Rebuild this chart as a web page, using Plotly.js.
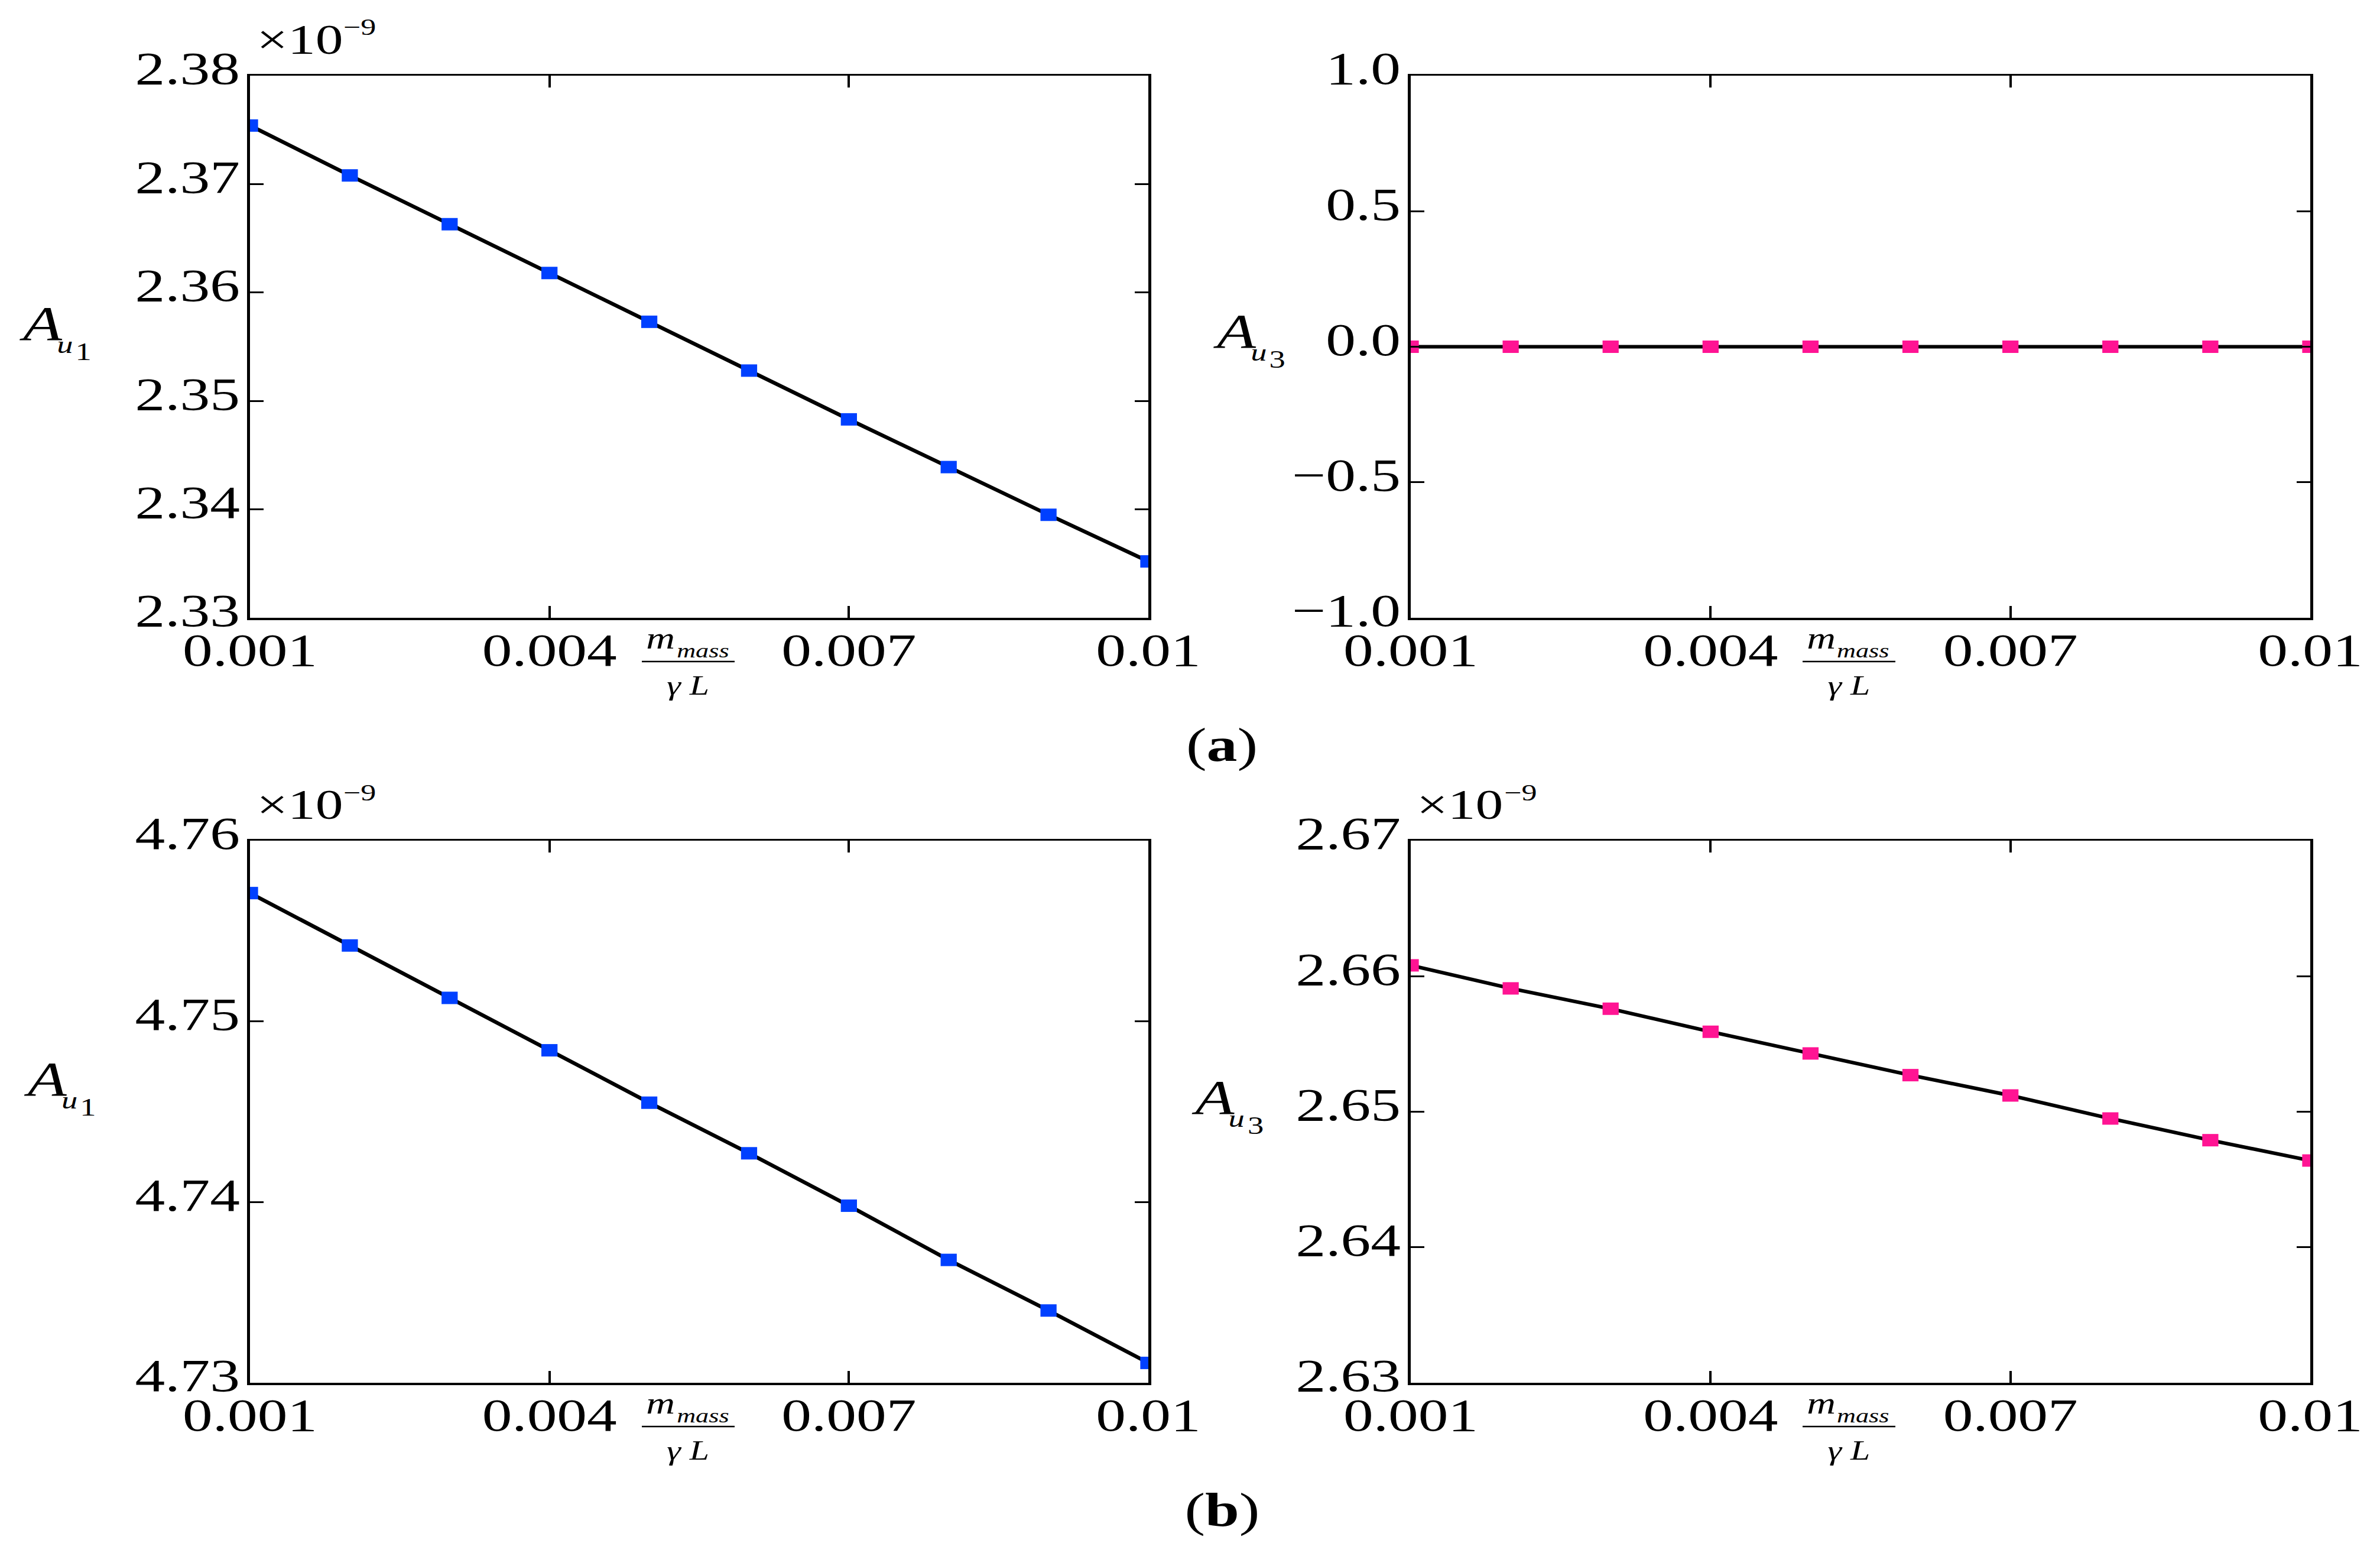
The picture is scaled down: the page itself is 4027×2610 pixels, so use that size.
<!DOCTYPE html>
<html>
<head>
<meta charset="utf-8">
<script src="https://cdn.plot.ly/plotly-3.0.1.min.js"></script>
<style>
  html, body { margin: 0; padding: 0; background: #fff; overflow: hidden; }
  /* the source figure is stretched horizontally, so draw narrow and widen */
  #fig { width: 3098px; height: 2610px; transform: scaleX(1.29987); transform-origin: 0 0; }
</style>
</head>
<body>
<div id="fig"></div>
<script>
// x: m_mass / (gamma L)
const massRatio = [0.001, 0.002, 0.003, 0.004, 0.005, 0.006, 0.007, 0.008, 0.009, 0.010];
const xTickVals = [0.001, 0.004, 0.007, 0.01];
const xTickText = ["0.001", "0.004", "0.007", "0.01"];

// amplitudes in units of 1e-9
const au1A = [2.3754, 2.3708, 2.3663, 2.3618, 2.3573, 2.3528, 2.3483, 2.3439, 2.3395, 2.3352];
const au3A = [0, 0, 0, 0, 0, 0, 0, 0, 0, 0];
const au1B = [4.7571, 4.7542, 4.7513, 4.7484, 4.7455, 4.7427, 4.7398, 4.7368, 4.7340, 4.7311];
const au3B = [2.6608, 2.6591, 2.6576, 2.6559, 2.6543, 2.6527, 2.6512, 2.6495, 2.6479, 2.6464];

const BLUE = "#0040ff";
const PINK = "#ff1493";
const W = 4027, H = 2610;
const FONT = "Liberation Serif, Times New Roman, serif";

// panel boxes in page pixels
const panels = [
    { left: 423,  right: 1943, top: 128,  bottom: 1045, y: au1A, color: BLUE, range: [2.33, 2.38], fmt: ".2f", sub: "1", exp: true },
    { left: 2387, right: 3909, top: 128,  bottom: 1045, y: au3A, color: PINK, range: [-1, 1],      fmt: ".1f", sub: "3", exp: false },
    { left: 423,  right: 1943, top: 1422, bottom: 2339, y: au1B, color: BLUE, range: [4.73, 4.76], fmt: ".2f", sub: "1", exp: true },
    { left: 2387, right: 3909, top: 1422, bottom: 2339, y: au3B, color: PINK, range: [2.63, 2.67], fmt: ".2f", sub: "3", exp: true },
];
// y-label anchor per panel: left edge of "A" and its cap centre
const yLab = [
    { x: 30,   y: 547 },
    { x: 2050, y: 560 },
    { x: 38,   y: 1825 },
    { x: 2013, y: 1856 },
];

const px = v => v / W;
const py = v => 1 - v / H;

function note(text, x, y, size, xanchor) {
    return { text, x: px(x), y: py(y), xref: "paper", yref: "paper",
             xanchor: xanchor || "left", yanchor: "middle", showarrow: false,
             font: { family: FONT, size } };
}

const traces = [];
const layout = {
    width: 3098, height: H,
    margin: { l: 0, r: 0, t: 0, b: 0 },
    paper_bgcolor: "#fff", plot_bgcolor: "#fff",
    showlegend: false,
    font: { family: FONT, size: 78, color: "#000" },
    annotations: [],
    shapes: [],
};

panels.forEach((p, i) => {
    const n = i === 0 ? "" : String(i + 1);
    traces.push({
        x: massRatio, y: p.y,
        xaxis: "x" + n, yaxis: "y" + n,
        type: "scatter", mode: "lines+markers",
        line: { color: "#000", width: 6 },
        marker: { symbol: "square", size: 21, color: p.color },
    });

    layout["xaxis" + n] = {
        domain: [px(p.left), px(p.right)],
        anchor: "y" + n,
        range: [0.001, 0.01],
        tickvals: xTickVals, ticktext: xTickText,
        ticks: "inside", ticklen: 20, tickwidth: 3, tickcolor: "#000",
        showline: true, linewidth: 3.5, linecolor: "#000", mirror: "ticks",
        showgrid: false, zeroline: false,
        ticklabelstandoff: -16,
    };
    layout["yaxis" + n] = {
        domain: [py(p.bottom), py(p.top)],
        anchor: "x" + n,
        range: p.range, dtick: p.range[0] < 0 ? 0.5 : 0.01, tickformat: p.fmt,
        ticks: "inside", ticklen: 18, tickwidth: 3, tickcolor: "#000",
        showline: true, linewidth: 3.5, linecolor: "#000", mirror: "ticks",
        showgrid: false, zeroline: false,
        ticklabelstandoff: -6, ticklabelshift: -13,
    };

    // y label A_{u_k}
    const yl = yLab[i];
    layout.annotations.push(
        note("<i>A</i>", yl.x, yl.y, 83),
        note("<i>u</i>", yl.x + 63, yl.y + 36, 42),
        note(p.sub, yl.x + 95, yl.y + 48, 42)
    );

    // x label m_mass over gamma L
    layout.annotations.push(
        note("<i>m</i>", p.left + 668, p.bottom + 34, 52),
        note("<i>mass</i>", p.left + 719, p.bottom + 55, 34),
        note("<i>γ L</i>", p.left + 741, p.bottom + 114, 46, "center")
    );
    layout.shapes.push({
        type: "line", xref: "paper", yref: "paper",
        x0: px(p.left + 663), x1: px(p.left + 820), y0: py(p.bottom + 74), y1: py(p.bottom + 74),
        line: { color: "#000", width: 2.5 },
    });

    // exponent above the axis
    if (p.exp) {
        layout.annotations.push(
            note("×10", p.left + 8, p.top - 61, 72),
            note("−9", p.left + 155, p.top - 82, 40)
        );
    }
});

// panel captions
[["(<b>a</b>)", 1260], ["(<b>b</b>)", 2554]].forEach(([t, y]) => {
    layout.annotations.push(note(t, 2068, y, 80, "center"));
});

Plotly.newPlot("fig", traces, layout, { displayModeBar: false, staticPlot: true });
</script>
</body>
</html>
